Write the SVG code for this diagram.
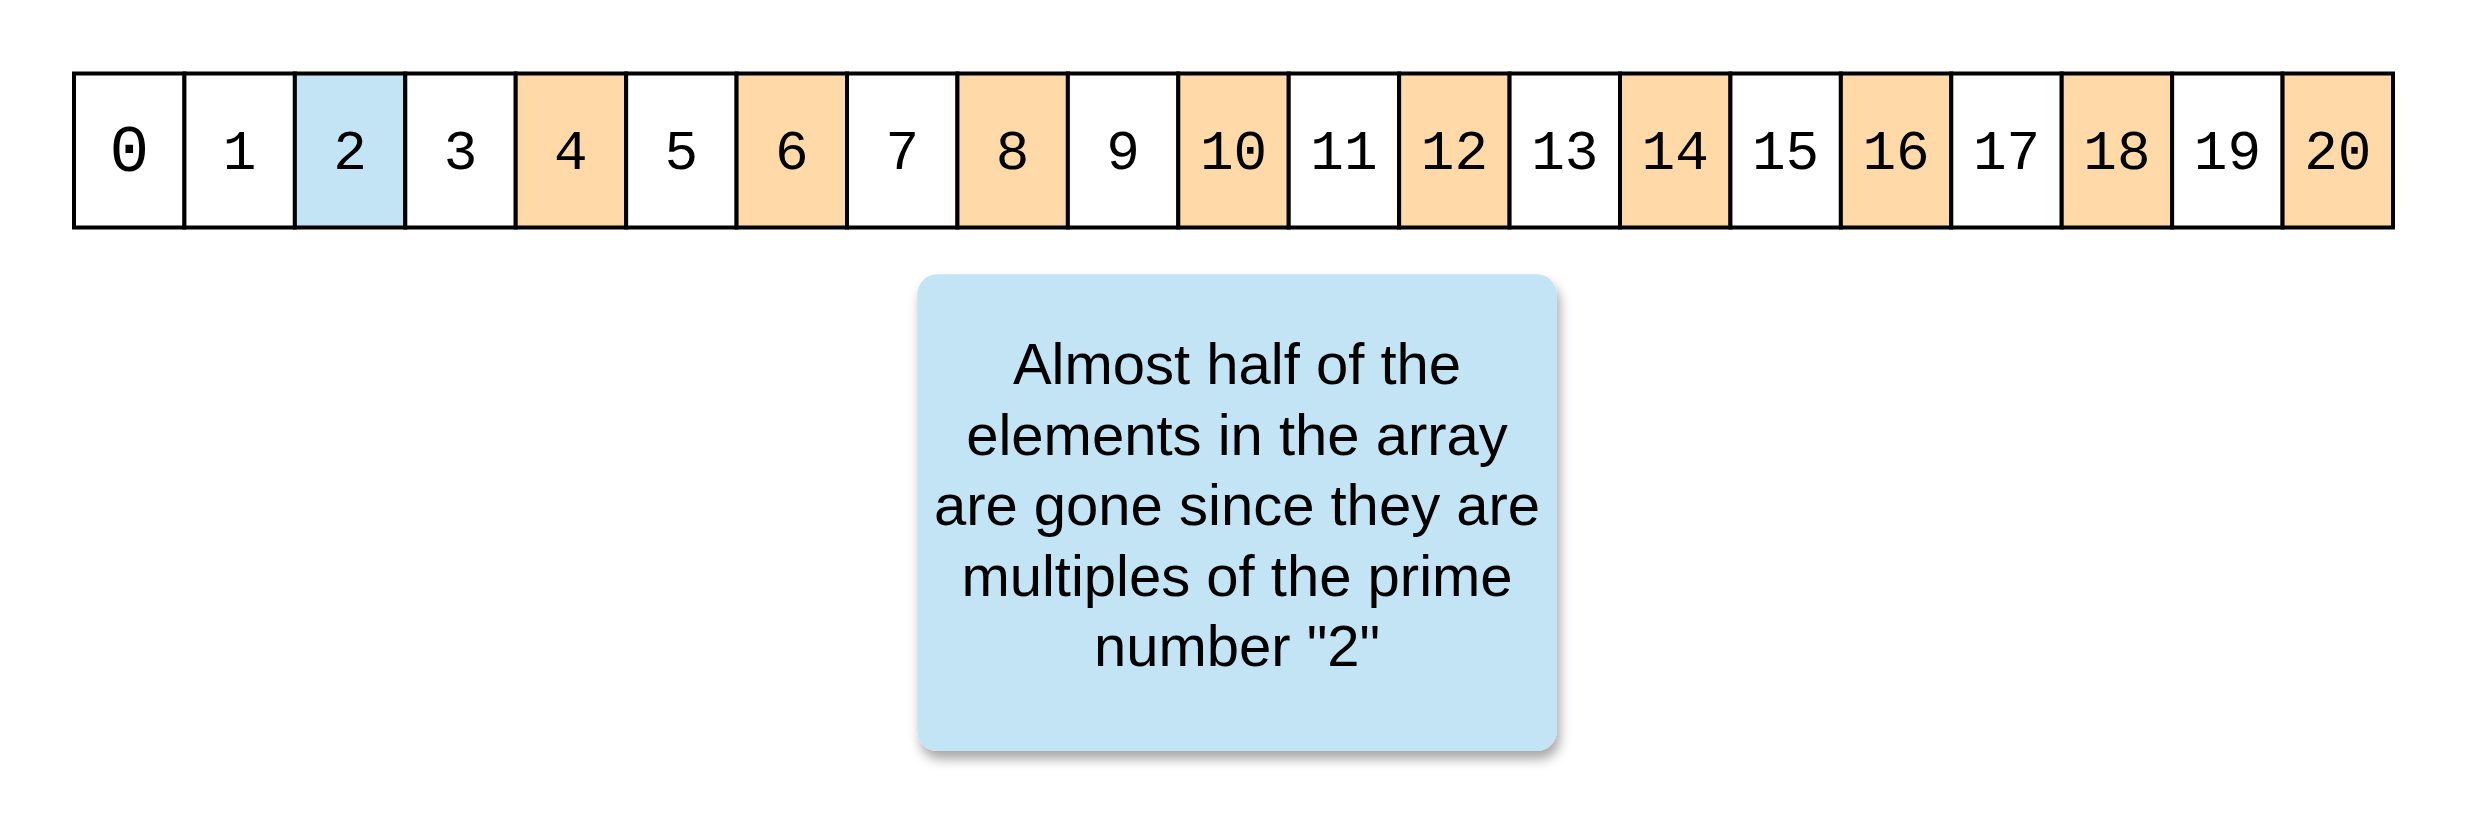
<svg xmlns="http://www.w3.org/2000/svg" width="2471" height="827" viewBox="0 0 2471 827">
<style>
.c{stroke:#000;stroke-width:4}
.w{fill:#fff}.b{fill:#c2e4f5}.o{fill:#ffdaa8}
.n{font-family:"Liberation Mono","Courier New",monospace;font-size:56px;fill:#000;text-anchor:middle}
.t{font-family:"Liberation Sans",Arial,sans-serif;font-size:58px;fill:#000;text-anchor:middle}
</style>
<defs>
<filter id="sh" x="-10%" y="-10%" width="125%" height="125%">
<feDropShadow dx="3" dy="8" stdDeviation="6" flood-color="#000" flood-opacity="0.35"/>
</filter>
</defs>
<rect width="2471" height="827" fill="#fff"/>
<g id="array">
<g id="cell0"><rect class="c w" x="74" y="73.5" width="110.43" height="154"/><text class="n" x="129.2" y="171" style="font-size:66px">0</text></g>
<g id="cell1"><rect class="c w" x="184.43" y="73.5" width="110.43" height="154"/><text class="n" x="239.6" y="169">1</text></g>
<g id="cell2"><rect class="c b" x="294.86" y="73.5" width="110.43" height="154"/><text class="n" x="350.1" y="169">2</text></g>
<g id="cell3"><rect class="c w" x="405.29" y="73.5" width="110.43" height="154"/><text class="n" x="460.5" y="169">3</text></g>
<g id="cell4"><rect class="c o" x="515.71" y="73.5" width="110.43" height="154"/><text class="n" x="570.9" y="169">4</text></g>
<g id="cell5"><rect class="c w" x="626.14" y="73.5" width="110.43" height="154"/><text class="n" x="681.4" y="169">5</text></g>
<g id="cell6"><rect class="c o" x="736.57" y="73.5" width="110.43" height="154"/><text class="n" x="791.8" y="169">6</text></g>
<g id="cell7"><rect class="c w" x="847" y="73.5" width="110.43" height="154"/><text class="n" x="902.2" y="169">7</text></g>
<g id="cell8"><rect class="c o" x="957.43" y="73.5" width="110.43" height="154"/><text class="n" x="1012.6" y="169">8</text></g>
<g id="cell9"><rect class="c w" x="1067.86" y="73.5" width="110.43" height="154"/><text class="n" x="1123.1" y="169">9</text></g>
<g id="cell10"><rect class="c o" x="1178.29" y="73.5" width="110.43" height="154"/><text class="n" x="1233.5" y="169">10</text></g>
<g id="cell11"><rect class="c w" x="1288.71" y="73.5" width="110.43" height="154"/><text class="n" x="1343.9" y="169">11</text></g>
<g id="cell12"><rect class="c o" x="1399.14" y="73.5" width="110.43" height="154"/><text class="n" x="1454.4" y="169">12</text></g>
<g id="cell13"><rect class="c w" x="1509.57" y="73.5" width="110.43" height="154"/><text class="n" x="1564.8" y="169">13</text></g>
<g id="cell14"><rect class="c o" x="1620" y="73.5" width="110.43" height="154"/><text class="n" x="1675.2" y="169">14</text></g>
<g id="cell15"><rect class="c w" x="1730.43" y="73.5" width="110.43" height="154"/><text class="n" x="1785.6" y="169">15</text></g>
<g id="cell16"><rect class="c o" x="1840.86" y="73.5" width="110.43" height="154"/><text class="n" x="1896.1" y="169">16</text></g>
<g id="cell17"><rect class="c w" x="1951.29" y="73.5" width="110.43" height="154"/><text class="n" x="2006.5" y="169">17</text></g>
<g id="cell18"><rect class="c o" x="2061.71" y="73.5" width="110.43" height="154"/><text class="n" x="2116.9" y="169">18</text></g>
<g id="cell19"><rect class="c w" x="2172.14" y="73.5" width="110.43" height="154"/><text class="n" x="2227.4" y="169">19</text></g>
<g id="cell20"><rect class="c o" x="2282.57" y="73.5" width="110.43" height="154"/><text class="n" x="2337.8" y="169">20</text></g>
</g>
<g id="note">
<rect x="917.3" y="274.3" width="639.4" height="476.7" rx="20" fill="#c2e4f5" filter="url(#sh)"/>
<text class="t" x="1237" y="384.3">Almost half of the</text>
<text class="t" x="1237" y="454.5">elements in the array</text>
<text class="t" x="1237" y="525">are gone since they are</text>
<text class="t" x="1237" y="595.5">multiples of the prime</text>
<text class="t" x="1237" y="666">number "2"</text>
</g>
<g id="connectors"/>
</svg>
